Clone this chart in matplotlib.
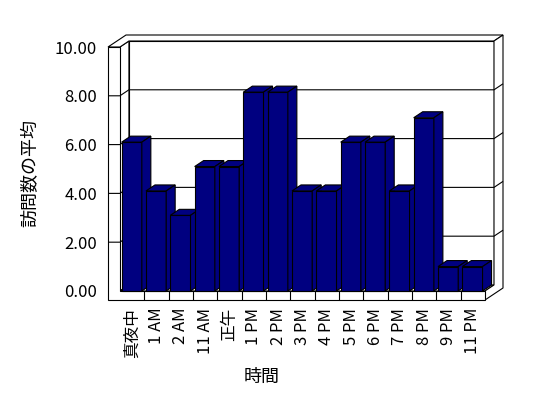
import matplotlib
matplotlib.use("Agg")
import matplotlib.pyplot as plt
from matplotlib.patches import Polygon

plt.rcParams['font.family'] = ['Noto Sans CJK JP', 'DejaVu Sans']

# -----------------------------
# data
# -----------------------------
categories = ['真夜中', '1 AM', '2 AM', '11 AM', '正午', '1 PM', '2 PM', '3 PM',
              '4 PM', '5 PM', '6 PM', '7 PM', '8 PM', '9 PM', '11 PM']
visits = [6.1, 4.1, 3.1, 5.1, 5.1, 8.15, 8.15, 4.1, 4.1, 6.1, 6.1, 4.1, 7.1, 1.0, 1.0]
yticks = [0, 2, 4, 6, 8, 10]
ylabel = '訪問数の平均'
xlabel = '時間'

# -----------------------------
# 3D look: depth vector and wall sizes (data units)
# -----------------------------
n = len(categories)
ymax = yticks[-1]
DX, DY = 0.37, 0.246      # shift for one unit of depth
WL = 0.49                 # left wall thickness
FT = 0.37                 # floor thickness
BAR_L, BAR_R = 0.07, 0.90
NAVY = '#000080'
LW = 0.8


def P(x, y, z):
    return (x + z * DX, y + z * DY)


def face(ax, pts, color='white', z=1):
    ax.add_patch(Polygon([P(*p) for p in pts], closed=True, facecolor=color,
                         edgecolor='black', linewidth=LW, zorder=z, clip_on=False))


def line(ax, pts, z=2):
    xy = [P(*p) for p in pts]
    ax.plot([p[0] for p in xy], [p[1] for p in xy], color='black', lw=LW,
            zorder=z, clip_on=False, solid_capstyle='butt')


fig = plt.figure(figsize=(5.48, 3.98), dpi=100)
ax = fig.add_axes([108 / 548, 1 - 300 / 398, 395 / 548, 265 / 398])
ax.set_xlim(-WL, n + 2 * DX)
ax.set_ylim(-FT, ymax + 2 * DY)
for s in ax.spines.values():
    s.set_visible(False)

# walls and floor
face(ax, [(0, 0, 1), (n, 0, 1), (n, ymax, 1), (0, ymax, 1)])              # back wall
face(ax, [(0, 0, 0), (0, 0, 1), (0, ymax, 1), (0, ymax, 0)])              # left wall inner
face(ax, [(0, 0, 0), (n, 0, 0), (n, 0, 1), (0, 0, 1)])                    # floor top
face(ax, [(-WL, ymax, 0), (0, ymax, 0), (0, ymax, 1), (n, ymax, 1),
          (n, ymax, 2), (-WL, ymax, 2)])                                   # wall tops
face(ax, [(n, -FT, 0), (n, -FT, 2), (n, ymax, 2), (n, ymax, 1),
          (n, 0, 1), (n, 0, 0)])                                           # right side
face(ax, [(-WL, -FT, 0), (n, -FT, 0), (n, 0, 0), (0, 0, 0),
          (0, ymax, 0), (-WL, ymax, 0)])                                   # front L

# gridlines
for v in yticks[1:-1]:
    line(ax, [(-WL, v, 0), (0, v, 0), (0, v, 1), (n, v, 1), (n, v, 2)])

# category ticks on the floor front
for i in range(1, n):
    line(ax, [(i, -FT, 0), (i, 0, 0)])

# bars
for i, h in enumerate(visits):
    x0, x1 = i + BAR_L, i + BAR_R
    zb = 3 + i
    face(ax, [(x0, 0, 0), (x1, 0, 0), (x1, h, 0), (x0, h, 0)], NAVY, zb)
    face(ax, [(x0, h, 0), (x1, h, 0), (x1, h, 1), (x0, h, 1)], NAVY, zb)
    face(ax, [(x1, 0, 0), (x1, 0, 1), (x1, h, 1), (x1, h, 0)], NAVY, zb)

# ticks and labels
ax.set_yticks(yticks)
ax.set_yticklabels([f'{v:.2f}' for v in yticks])
ax.set_xticks([i + 0.5 for i in range(n)])
ax.set_xticklabels(categories, rotation=90)
ax.tick_params(axis='y', length=0, pad=8, labelsize=12)
ax.tick_params(axis='x', length=0, pad=5.5, labelsize=12)

fig.text(30 / 548, 1 - 173 / 398, ylabel, rotation=90, ha='center', va='center', fontsize=13)
fig.text(262 / 548, 1 - 377 / 398, xlabel, ha='center', va='center', fontsize=13)

fig.savefig('out.png', dpi=100)
